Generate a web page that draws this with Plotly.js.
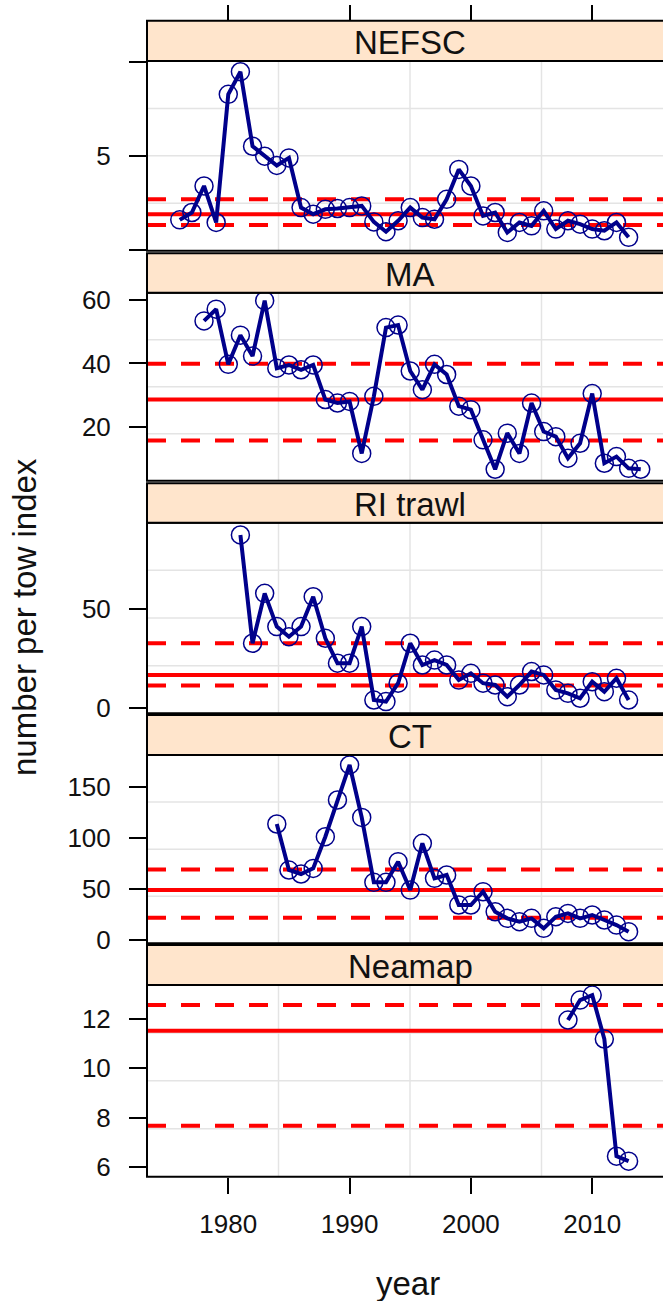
<!DOCTYPE html>
<html><head><meta charset="utf-8">
<script src="https://cdn.plot.ly/plotly-3.0.1.min.js"></script>
<style>html,body{margin:0;padding:0;overflow:hidden;background:#fff}</style>
</head><body><div id="chart"></div>
<script>
// ---- data ----
const panelNames = ['NEFSC', 'MA', 'RI trawl', 'CT', 'Neamap'];

const nefscYears = [1976,1977,1978,1979,1980,1981,1982,1983,1984,1985,1986,1987,1988,1989,1990,1991,1992,1993,1994,1995,1996,1997,1998,1999,2000,2001,2002,2003,2004,2005,2006,2007,2008,2009,2010,2011,2012,2013];
const nefscValues = [1.62,2.01,3.42,1.48,8.29,9.49,5.53,5.0,4.51,4.91,2.27,1.92,2.18,2.22,2.27,2.36,1.51,0.99,1.57,2.27,1.74,1.65,2.71,4.30,3.42,1.83,2.01,0.95,1.48,1.30,2.10,1.13,1.57,1.39,1.13,1.04,1.48,0.69];

const maYears = [1978,1979,1980,1981,1982,1983,1984,1985,1986,1987,1988,1989,1990,1991,1992,1993,1994,1995,1996,1997,1998,1999,2000,2001,2002,2003,2004,2005,2006,2007,2008,2009,2010,2011,2012,2013,2014];
const maValues = [53.4,57.1,39.7,48.9,42.3,59.8,38.5,39.5,38.0,39.5,28.6,27.5,28.0,11.6,29.6,51.3,52.1,37.6,31.7,39.7,36.5,26.5,25.4,15.9,6.6,18.0,11.6,27.5,18.5,16.9,10.1,14.8,30.5,8.5,10.6,6.9,6.6];

const riYears = [1981,1982,1983,1984,1985,1986,1987,1988,1989,1990,1991,1992,1993,1994,1995,1996,1997,1998,1999,2000,2001,2002,2003,2004,2005,2006,2007,2008,2009,2010,2011,2012,2013];
const riValues = [87.4,32.7,57.9,41.1,36.0,41.1,56.2,35.2,22.6,22.6,41.1,4.0,3.2,12.5,32.7,21.7,24.2,21.7,14.1,17.5,12.5,11.6,5.7,11.6,18.4,16.7,9.1,7.4,4.9,13.3,8.2,15.0,4.0];

const ctYears = [1984,1985,1986,1987,1988,1989,1990,1991,1992,1993,1994,1995,1996,1997,1998,1999,2000,2001,2002,2003,2004,2005,2006,2007,2008,2009,2010,2011,2012,2013];
const ctValues = [114.0,68.8,64.9,70.4,101.5,137.6,172.0,120.5,56.7,56.7,77.0,49.1,95.0,60.6,63.9,34.4,34.4,47.5,27.8,21.3,18.0,21.3,11.5,22.9,26.2,21.3,24.6,19.7,14.7,8.2];

const neamapYears = [2008,2009,2010,2011,2012,2013];
const neamapValues = [11.96,12.77,12.97,11.19,6.44,6.24];

// reference lines per panel (upper dashed, solid, lower dashed)
const refUpper = [2.71, 39.9, 32.7, 69.4, 12.57];
const refMiddle = [1.92, 28.6, 16.7, 49.1, 11.53];
const refLower = [1.34, 15.7, 11.3, 21.9, 7.68];

// tick labels
const xTickVals = [1980, 1990, 2000, 2010];
const nefscTicks = [0, 5, 10];
const nefscTickText = ['', '5', ''];
const maTicks = [20, 40, 60];
const riTicks = [0, 50];
const ctTicks = [0, 50, 100, 150];
const neamapTicks = [6, 8, 10, 12];

// ---- layout ----
const W = 700, H = 1301;
const plotLeft = 147, plotRight = 673;
const FONT = 'Liberation Sans, Arial, sans-serif';
const xRange = [1973.3, 2016.66];
const stripTops = [20.7, 253.3, 483.3, 715, 945];
const panelTops = [61, 292.7, 522.7, 755, 985];
const panelBottoms = [250.7, 480.7, 713.3, 943.3, 1176.7];
const yRanges = [[-0.02, 10.06], [3.0, 62.3], [-2.7, 93.6], [-3.2, 181.8], [5.61, 13.38]];

const series = [
  {x: nefscYears, y: nefscValues, tv: nefscTicks, tt: nefscTickText},
  {x: maYears, y: maValues, tv: maTicks},
  {x: riYears, y: riValues, tv: riTicks},
  {x: ctYears, y: ctValues, tv: ctTicks},
  {x: neamapYears, y: neamapValues, tv: neamapTicks}
];

const pf = py => 1 - py / H;
const traces = [];
const layout = {
  width: W, height: H,
  margin: {l: plotLeft, r: W - plotRight, t: 0, b: 0, pad: 0},
  paper_bgcolor: '#fff', plot_bgcolor: '#fff',
  showlegend: false, hovermode: false,
  font: {family: FONT, color: '#000'},
  shapes: [], annotations: []
};

series.forEach((s, i) => {
  const n = i + 1;
  const xa = n === 1 ? 'x' : 'x' + n;
  const ya = n === 1 ? 'y' : 'y' + n;
  const xk = n === 1 ? 'xaxis' : 'xaxis' + n;
  const yk = n === 1 ? 'yaxis' : 'yaxis' + n;
  const isBottom = n === series.length;

  traces.push({
    type: 'scatter', mode: 'lines+markers', x: s.x, y: s.y,
    xaxis: xa, yaxis: ya,
    line: {color: '#00008B', width: 4},
    marker: {symbol: 'circle-open', size: 18, color: '#00008B', line: {width: 1.5, color: '#00008B'}},
    cliponaxis: false
  });

  layout[xk] = {
    domain: [0, 1], anchor: ya, range: xRange,
    showgrid: false, zeroline: false, showline: false,
    tickvals: xTickVals,
    ticks: isBottom ? 'outside' : '', ticklen: 16, tickwidth: 2, tickcolor: '#000',
    showticklabels: isBottom, tickfont: {family: FONT, size: 26, color: '#111'},
    ticklabelstandoff: 8
  };
  layout[yk] = {
    domain: [pf(panelBottoms[i]), pf(panelTops[i])], anchor: xa, range: yRanges[i],
    showgrid: false, zeroline: false, showline: false,
    tickmode: 'array', tickvals: s.tv, ticktext: s.tt ? s.tt : s.tv.map(String),
    ticks: 'outside', ticklen: 17, tickwidth: 2, tickcolor: '#000',
    tickfont: {family: FONT, size: 26, color: '#111'},
    ticklabelstandoff: 13
  };

  // grid (quartile lines, as in lattice panel.grid(h=3, v=3))
  [0.25, 0.5, 0.75].forEach(f => {
    layout.shapes.push({type: 'line', layer: 'below', xref: xa + ' domain', yref: ya + ' domain',
      x0: f, x1: f, y0: 0, y1: 1, line: {color: '#E4E4E4', width: 1.5}});
    layout.shapes.push({type: 'line', layer: 'below', xref: xa + ' domain', yref: ya + ' domain',
      x0: 0, x1: 1, y0: f, y1: f, line: {color: '#E4E4E4', width: 1.5}});
  });
  // reference lines
  [[refUpper[i], 'dash'], [refMiddle[i], 'solid'], [refLower[i], 'dash']].forEach(([v, d]) => {
    layout.shapes.push({type: 'line', layer: 'below', xref: xa + ' domain', yref: ya,
      x0: 0, x1: 1, y0: v, y1: v,
      line: {color: '#FF0000', width: 4, dash: d === 'dash' ? '19px,15px' : 'solid'}});
  });
  // panel box
  layout.shapes.push({type: 'rect', layer: 'above', xref: xa + ' domain', yref: ya + ' domain',
    x0: 0, x1: 1, y0: 0, y1: 1, line: {color: '#000', width: 2}, fillcolor: 'rgba(0,0,0,0)'});
  // strip
  layout.shapes.push({type: 'rect', layer: 'above', xref: 'paper', yref: 'paper',
    x0: 0, x1: 1, y0: pf(panelTops[i]), y1: pf(stripTops[i]),
    line: {color: '#000', width: 2}, fillcolor: '#FFE5CC'});
  layout.annotations.push({text: panelNames[i], xref: 'paper', yref: 'paper',
    x: 0.5, y: pf((stripTops[i] + panelTops[i]) / 2 + 1.5), xanchor: 'center', yanchor: 'middle',
    showarrow: false, font: {family: FONT, size: 33, color: '#111'}});
});

// top ticks above the first strip
traces.push({type: 'scatter', x: [], y: [], xaxis: 'x6', yaxis: 'y', hoverinfo: 'skip'});
layout.xaxis6 = {
  overlaying: 'x', anchor: 'free', position: pf(stripTops[0]), side: 'top', range: xRange,
  tickvals: xTickVals, ticks: 'outside', ticklen: 16, tickwidth: 2, tickcolor: '#000',
  showticklabels: false, showgrid: false, zeroline: false, showline: false
};

// axis titles
layout.annotations.push({text: 'number per tow index', xref: 'paper', yref: 'paper',
  x: (25 - plotLeft) / (plotRight - plotLeft), y: pf(617), textangle: -90,
  xanchor: 'center', yanchor: 'middle', showarrow: false,
  font: {family: FONT, size: 33, color: '#111'}});
layout.annotations.push({text: 'year', xref: 'paper', yref: 'paper',
  x: (408 - plotLeft) / (plotRight - plotLeft), y: pf(1283),
  xanchor: 'center', yanchor: 'middle', showarrow: false,
  font: {family: FONT, size: 33, color: '#111'}});

Plotly.newPlot('chart', traces, layout, {staticPlot: true, displayModeBar: false});
</script>
</body></html>
